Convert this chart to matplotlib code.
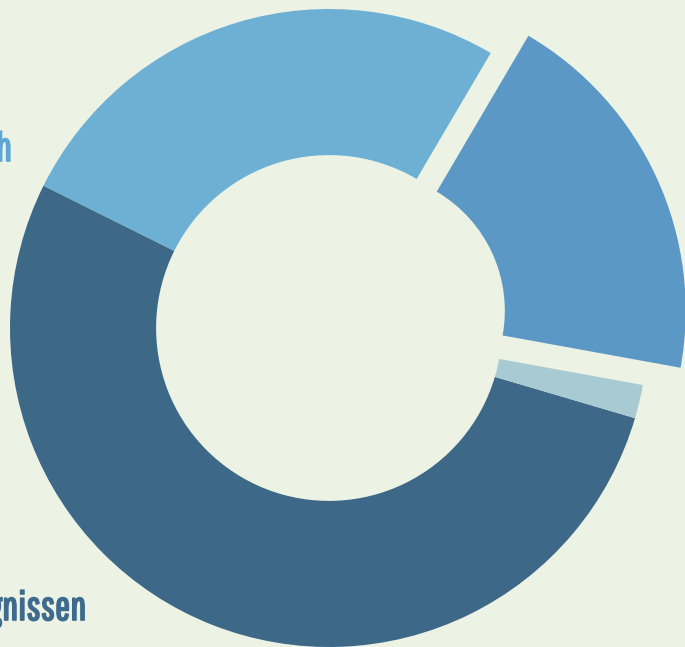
import matplotlib.pyplot as plt
import matplotlib.patheffects as pe

# ring slices, counterclockwise starting at the dark one
labels = ["dark", "steel", "medium", "light"]
values = [52.8, 1.7, 19.4, 26.1]
colors = ["#3e6888", "#a8cad2", "#5b98c6", "#6eb0d4"]
exploded = "medium"

# partial labels cut off at the left edge
text_top = "h"
text_bottom = "gnissen"

bg = "#ecf3e4"
W, H = 685, 647
cx, cy, R = 329, 328, 319  # pixels

fig = plt.figure(figsize=(W / 100, H / 100), dpi=100, facecolor=bg)
ax = fig.add_axes([0, 0, 1, 1])
ax.set_facecolor(bg)

start = 153.5

# main ring, exploded slice left invisible
main_cols = [c if l != exploded else "none" for l, c in zip(labels, colors)]
ax.pie(values, colors=main_cols, startangle=start, radius=1.0,
       wedgeprops=dict(width=0.458, linewidth=0))

# exploded slice, drawn on its own with a wider band
exp_cols = [c if l == exploded else "none" for l, c in zip(labels, colors)]
explode = [0.13 if l == exploded else 0 for l in labels]
ax.pie(values, colors=exp_cols, startangle=start, radius=1.0, explode=explode,
       wedgeprops=dict(width=0.567, linewidth=0))

ax.set_xlim(-cx / R, (W - cx) / R)
ax.set_ylim(-(H - cy) / R, cy / R)
ax.set_aspect("equal")
ax.axis("off")

font = ["Pathway Gothic One", "DejaVu Sans"]
c_top, c_bot = "#5fa5d6", "#3e6a8e"
fig.text(12 / W, 1 - 161 / H, text_top, ha="right", va="baseline",
         fontsize=29, color=c_top, family=font,
         path_effects=[pe.withStroke(linewidth=1.2, foreground=c_top)])
fig.text(86 / W, 1 - 620 / H, text_bottom, ha="right", va="baseline",
         fontsize=29, color=c_bot, family=font,
         path_effects=[pe.withStroke(linewidth=1.2, foreground=c_bot)])

fig.savefig("out.png", dpi=100, facecolor=bg)
